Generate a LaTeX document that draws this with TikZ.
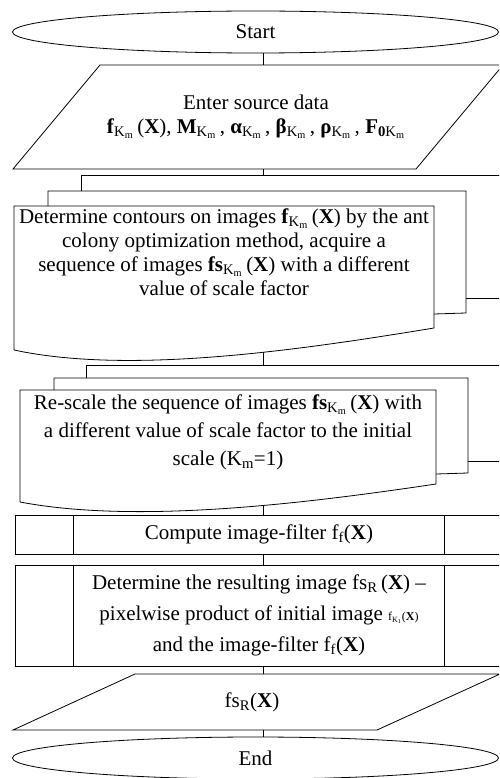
\documentclass[tikz,border=0pt]{standalone}
\usepackage{fontspec}
\setmainfont{Liberation Serif}
\usetikzlibrary{shapes.geometric}
\newcommand{\Km}{\textsubscript{K\textsubscript{m}}\,}
\begin{document}
\begin{tikzpicture}[x=1pt, y=-1pt, line width=0.8pt,
    term/.style={ellipse, draw, minimum width=486pt, minimum height=42pt, inner sep=0pt},
    txt/.style={align=center, font=\fontsize{21}{24}\selectfont},
    proc/.style={rectangle, draw, minimum width=488pt, inner sep=0pt}]
  \useasboundingbox (0,0) rectangle (499,778);
  \clip (0,0) rectangle (499,778);
  \coordinate (axis) at (263,0);

  % start
  \node[term, txt] (start) at (255.5,32) {Start};

  % source data
  \draw (100,65) coordinate (intop) -- (503,65) -- (416,169) -- (13,169) coordinate (inbot) -- cycle;
  \node[txt] (input) at (256,117) {Enter source data\\
    \textbf{f}\Km(\textbf{X}), \textbf{M}\Km, \textbf{α}\Km, \textbf{β}\Km, \textbf{ρ}\Km, \textbf{F}\textsubscript{\textbf{0}K\textsubscript{m}}};

  % contours (stack of documents)
  \draw (81,191) -- (81,175) coordinate (doctop) -- (510,175) -- (510,298) -- (466,298);
  \draw (48,206) -- (48,191) -- (466,191) -- (466,313) -- (434,314);
  \draw (14,350) -- (14,206) -- (434,206) -- (434,328) .. controls (300,350) and (130,375) .. (14,350);
  \coordinate (wave) at (263,352);
  \node[txt] (contours) at (224,252) {Determine contours on images \textbf{f}\Km(\textbf{X}) by the ant\\
    colony optimization method, acquire a\\
    sequence of images \textbf{fs}\Km(\textbf{X}) with a different\\
    value of scale factor};

  % re-scale (stack of documents)
  \draw (86,378) -- (86,365) coordinate (rstop) -- (510,365) -- (510,461) -- (468,461);
  \draw (54,390) -- (54,378) -- (468,378) -- (468,473) -- (436,474);
  \draw (20,502) -- (20,390) -- (436,390) -- (436,484) .. controls (302,504) and (136,524) .. (20,502);
  \coordinate (rswave) at (263,505);
  \node[txt, font=\fontsize{21}{28}\selectfont] (rescale) at (228,432) {Re-scale the sequence of images \textbf{fs}\Km(\textbf{X}) with\\
    a different value of scale factor to the initial\\
    scale (K\textsubscript{m}=1)};

  % image-filter
  \node[proc, txt, minimum height=39pt] (filter) at (259,534.5) {Compute image-filter f\textsubscript{f}(\textbf{X})};
  \draw ([xshift=59pt]filter.north west) -- ([xshift=59pt]filter.south west);
  \draw ([xshift=-59pt]filter.north east) -- ([xshift=-59pt]filter.south east);

  % resulting image
  \node[proc, txt, minimum height=101pt, font=\fontsize{21}{31}\selectfont] (result) at (259,615.5) {Determine the resulting image fs\textsubscript{R}\,(\textbf{X}) –\\
    pixelwise product of initial image {\fontsize{12}{12}\selectfont f\textsubscript{K\textsubscript{1}}(\textbf{X})}\\
    and the image-filter f\textsubscript{f}(\textbf{X})};
  \draw ([xshift=59pt]result.north west) -- ([xshift=59pt]result.south west);
  \draw ([xshift=-59pt]result.north east) -- ([xshift=-59pt]result.south east);

  % output
  \draw (135,674) coordinate (outtop) -- (500,674) -- (377,730) -- (13,730) coordinate (outbot) -- cycle;
  \node[txt] (output) at (252,702) {fs\textsubscript{R}(\textbf{X})};

  % end
  \node[term, txt] (end) at (255.5,758) {End};

  \draw (start.south -| axis) -- (intop -| axis);
  \draw (inbot -| axis) -- (doctop -| axis);
  \draw (wave) -- (rstop -| axis);
  \draw (rswave) -- (filter.north -| axis);
  \draw (filter.south -| axis) -- (result.north -| axis);
  \draw (result.south -| axis) -- (outtop -| axis);
  \draw (outbot -| axis) -- (end.north -| axis);
\end{tikzpicture}
\end{document}
